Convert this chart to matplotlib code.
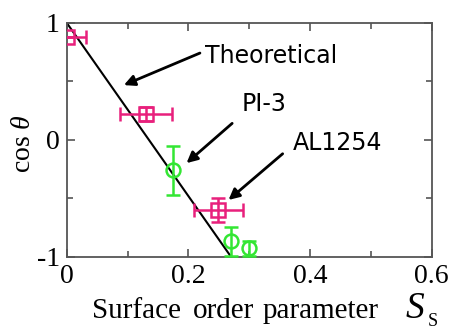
import matplotlib
matplotlib.use("Agg")
import matplotlib.pyplot as plt

plt.rcParams["mathtext.fontset"] = "custom"
plt.rcParams["mathtext.rm"] = "Liberation Serif"
plt.rcParams["mathtext.it"] = "Liberation Serif:italic"

# Data
al_x = [0.0, 0.130, 0.249]
al_y = [0.88, 0.22, -0.60]
al_xerr = [0.032, 0.043, 0.040]
al_yerr = [0.0, 0.06, 0.10]

pi_x = [0.174, 0.270, 0.300]
pi_y = [-0.26, -0.87, -0.93]
pi_yerr = [0.21, 0.12, 0.06]

theory_x = [0.0, 0.27]
theory_y = [1.0, -1.0]

xticks = [0, 0.2, 0.4, 0.6]
xticklabels = ["0", "0.2", "0.4", "0.6"]
yticks = [-1, 0, 1]
yticklabels = ["-1", "0", "1"]

pink = "#e8207c"
green = "#33e633"

fig = plt.figure(figsize=(4.58, 3.29), dpi=100)
ax = fig.add_axes([0.1456, 0.2198, 0.797, 0.711])

ax.plot(theory_x, theory_y, color="black", lw=1.5, zorder=2)

ax.errorbar(al_x, al_y, xerr=al_xerr, yerr=al_yerr, fmt="s", mfc="none", mec=pink,
            ecolor=pink, mew=1.8, ms=9.5, capsize=5, elinewidth=1.8, capthick=1.8, zorder=3)
ax.errorbar(pi_x, pi_y, yerr=pi_yerr, fmt="o", mfc="none", mec=green,
            ecolor=green, mew=1.8, ms=10, capsize=5, elinewidth=1.8, capthick=1.8, zorder=3)

ax.set_xlim(0, 0.6)
ax.set_ylim(-1, 1)
ax.set_xticks(xticks)
ax.set_xticklabels(xticklabels)
ax.set_xticks([0.1, 0.3, 0.5], minor=True)
ax.set_yticks(yticks)
ax.set_yticklabels(yticklabels)
ax.set_yticks([-0.5, 0.5], minor=True)
ax.tick_params(which="both", direction="in", top=True, right=True, color="#555555", width=1.2)
ax.tick_params(which="major", length=6, labelsize=20, pad=5)
ax.tick_params(which="minor", length=4)
for lab in ax.get_xticklabels() + ax.get_yticklabels():
    lab.set_family("Liberation Serif")
for s in ax.spines.values():
    s.set_color("#555555")
    s.set_linewidth(1.3)

sans = "DejaVu Sans"
arrowprops = dict(arrowstyle="-|>", color="black", lw=2, mutation_scale=16, shrinkA=0, shrinkB=0)
ax.annotate("", xy=(0.094, 0.467), xytext=(0.219, 0.741), arrowprops=arrowprops)
ax.annotate("", xy=(0.197, -0.20), xytext=(0.272, 0.140), arrowprops=arrowprops)
ax.annotate("", xy=(0.266, -0.515), xytext=(0.355, -0.12), arrowprops=arrowprops)
ax.text(0.228, 0.715, "Theoretical", fontsize=17, family=sans, va="center", ha="left")
ax.text(0.287, 0.305, "PI-3", fontsize=17, family=sans, va="center", ha="left")
ax.text(0.372, -0.027, "AL1254", fontsize=17, family=sans, va="center", ha="left")

base = 1 - 318 / 329
for word, xpx in [("Surface", 92), ("order", 193), ("parameter", 263)]:
    fig.text(xpx / 458, base, word, fontsize=21, family="Liberation Serif",
             ha="left", va="baseline")
fig.text(406 / 458, base, "S", fontsize=27, family="Liberation Serif",
         style="italic", ha="left", va="baseline")
fig.text(428 / 458, 1 - 326 / 329, "S", fontsize=13, family="Liberation Serif",
         ha="left", va="baseline")

fig.text(24 / 458, 1 - 144 / 329, "cos $\\theta$", fontsize=20, family="Liberation Serif",
         rotation=90, ha="center", va="center")

fig.savefig("out.png", dpi=100)
